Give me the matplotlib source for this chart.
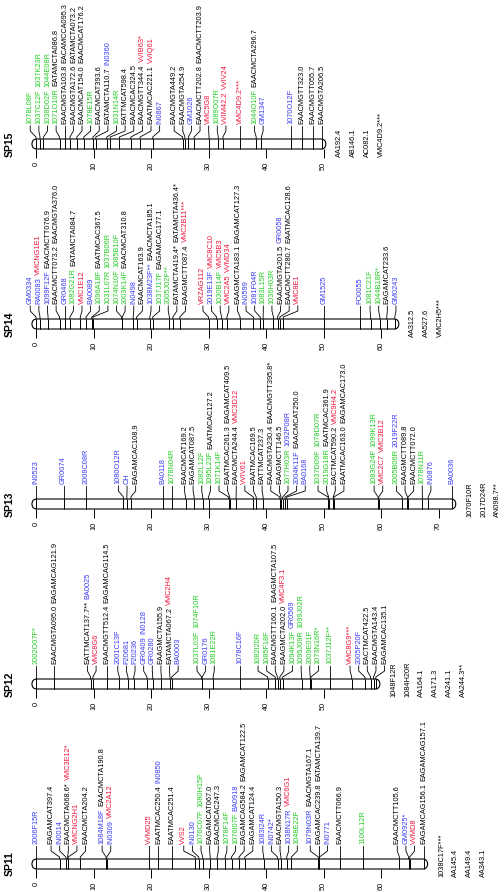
import numpy as np
import matplotlib.pyplot as plt
from matplotlib.patches import FancyBboxPatch

plt.rcParams['font.family'] = ['Liberation Sans', 'DejaVu Sans']

# marker positions (cM), label lines, word types (k=AFLP, g/b/r other marker classes)
sp15_pos = [0.0, 0.7, 1.3, 4.1, 5.0, 5.9, 7.1, 8.3, 9.9, 10.4, 12.3, 12.9, 14.5, 16.5, 18.1, 20.3,
            25.5, 25.9, 26.5, 27.5, 30.1, 31.7, 32.5, 35.5, 38.3, 39.2, 44.3, 46.3, 48.2, 49.7]
sp15_labels = ["1078L08F", "1037C12F 1037K23R", "1038D02F 1044E08R", "1071O10R EATAMCTA086.8",
               "EAACMGTA103.8 EACAMCCA095.3", "EAACMGTA172.6 EATAMCTA073.2", "EAACMCAT154.0 EAACMCAT176.2",
               "1078E15R", "EAACMCAT393.6", "EATAMCTA110.7 IN0360", "1031N14R", "EATTMCAT598.4",
               "EAACMCAC324.5", "EAACMGTT344.4 VVIB63*", "EAATMCAC221.1 VVIQ61", "IN0867",
               "EAACMGTA449.2", "EAACMGTA254.9", "GM1026", "EAACMCTT202.8 EAACMCTT203.9", "VMC5G8",
               "1089O07R", "VVIM42.2 VVIV24", "VMC4D9.2***", "1044O10F EAACMCTA296.7", "GM1347",
               "1070O12F", "EAACMGTT323.0", "EAACMGTT055.7", "EAACMGTA206.5"]
sp15_types = ["g", "gg", "gg", "gk", "kk", "kk", "kk", "g", "k", "kb", "g", "k", "k", "kr", "kr", "b",
              "k", "k", "b", "kk", "r", "g", "rr", "r", "gk", "b", "b", "k", "k", "k"]
sp15_unmapped = ["AA192.4", "AB146.1", "AC082.1", "VMC4D9.2***"]

sp14_pos = [0.0, 0.7, 2.1, 4.1, 5.0, 5.9, 7.7, 8.7, 9.7, 9.9, 14.9, 15.0, 16.9, 17.5, 19.8, 20.3,
            23.2, 23.8, 25.0, 30.0, 31.4, 32.3, 33.2, 35.5, 37.8, 39.0, 39.5, 41.3, 42.0, 42.4, 43.0,
            50.1, 56.3, 58.2, 59.8, 61.0, 62.4]
sp14_labels = ["GM0334", "RA0083 VMCNG1E1", "1099F12F EAACMCTT076.9", "EAACMCTT073.2 EAACMGTA376.0",
               "GR0468", "1082G21R EATAMCTA084.7", "VMC1E12", "BA0089", "1096A18F EAATMCAC367.5",
               "1031L07R 1037B06R", "1074N10F 1085B10F", "2003K14F EAACMCAT310.8", "IN0498",
               "EAACMCAT163.9", "1038M23F** EAACMCTA185.1", "1037J17F EAGAMCAC177.1", "2005J02F**",
               "EATAMCTA419.4* EATAMCTA436.4*", "EAAGMCTT087.4 VMC2B11***", "VRZAG112",
               "2019E13F VMC8C10", "1030B14F VMC5B3", "VMC2A5 VVMD34", "EAAGMCTA183.1 EAGAMCAT127.3",
               "IN0599", "1081F04R", "1083L15R", "1036H03R", "EAACMGTA201.5 GR0058",
               "EAACMCTT280.7 EAATMCAC128.6", "VMC8E1", "GM1525", "FO0055", "1081C21F", "1044B18R*",
               "EAGAMCAT233.6", "GM0243"]
sp14_types = ["b", "br", "bk", "kk", "b", "gk", "r", "b", "gk", "gg", "gg", "gk", "b", "k", "bk", "gk",
              "g", "kk", "kr", "r", "br", "gr", "rr", "kk", "b", "b", "g", "g", "kb", "kk", "r", "b",
              "b", "g", "g", "k", "b"]
sp14_unmapped = ["AA312.5", "AA527.6", "VMC2H5***"]

sp13_pos = [0.0, 4.8, 8.7, 15.2, 15.8, 16.5, 22.1, 23.6, 26.0, 27.5, 29.0, 30.0, 33.5, 33.7, 34.8,
            37.8, 38.3, 39.5, 42.4, 42.6, 42.9, 43.3, 43.6, 50.8, 50.9, 51.7, 51.8, 59.5, 59.6, 63.7,
            64.6, 64.7, 67.2, 68.2, 72.3]
sp13_labels = ["IN0523", "GR0074", "2008C08R", "1080O12R", "CH", "EAGAMCAC108.9", "BA0118", "1078N04R",
               "EAACMCAT169.2", "EAGAMCAT087.5", "1082L12F", "1095L23F EAATMCAC127.2", "1071K14F",
               "EAATMCAC261.3 EAGAMCAT409.5", "EAACMCTA244.4 VMC3D12", "VVIV61", "EAATMCAC169.5",
               "EATTMCAT237.3", "EAACMGTA230.4 EAACMGTT395.8*", "EAAGMCTT146.5", "1077H03R 1092P08R",
               "2004K11F EAACMCAT250.0", "BA0168", "1037D09F 1078D07R", "2019G18R EAATMCAC361.9",
               "EACTMCAT590.2 VMC9H4.2", "EAATMCAC163.0 EAGAMCAC173.0", "1083G24F 1099K13R",
               "VMC2C7 VMC3B12", "2005B06R 2019F22R", "EAAGMCTT089.8", "EAACMCTT072.0", "1078N11R",
               "IN0876", "BA0036"]
sp13_types = ["b", "b", "b", "b", "b", "k", "b", "g", "k", "k", "g", "gk", "g", "kk", "kr", "r", "k",
              "k", "kk", "k", "gb", "bk", "b", "gg", "gk", "kr", "kk", "gg", "rr", "gb", "k", "k", "g",
              "b", "b"]
sp13_unmapped = ["1070F10R", "2017D24R", "AN098.7**"]

sp12_pos = [0.0, 3.2, 9.5, 9.9, 12.3, 14.5, 16.0, 17.0, 19.3, 20.3, 21.8, 23.3, 23.6, 28.8, 28.9,
            30.8, 35.5, 40.3, 41.6, 42.0, 42.4, 42.9, 46.2, 47.7, 47.8, 51.1, 54.9, 57.2, 58.2, 58.7,
            59.1]
sp12_labels = ["2002O07F*", "EAACMGTA095.0 EAGAMCAG121.9", "EATTMCAT137.7** BA0025", "VMC8G6",
               "EAACMGTT512.4 EAGAMCAG114.5", "2001C13F", "F20681", "F20236", "GR0409 IN0128", "GR0280",
               "EAAGMCTA155.9", "EATAMCTA067.2 VMC2H4", "BA0003", "1037L03F 1074F10R", "GR0176",
               "1081E22R", "1078C16F", "1082I20R", "1085F18F", "EAACMGTT160.1 EAAGMCTA107.5",
               "EAAGMCTA202.0 VMC4F3.1", "1094K13F GR0569", "1095J09R 1099J02R", "2009E01F",
               "1073N16R*", "1037J12F**", "VMC8G9***", "2005P20F", "EACTMCAT422.5", "EAACMGTA143.4",
               "EAGAMCAC135.1"]
sp12_types = ["g", "kk", "kb", "r", "kk", "b", "b", "b", "bb", "b", "k", "kr", "b", "gg", "b", "g", "b",
              "g", "g", "kk", "kr", "gb", "gg", "g", "g", "g", "r", "b", "k", "k", "k"]
sp12_unmapped = ["1048F12R", "1084H20R", "AA164.1", "AA171.3", "AA241.1", "AA244.3**"]

sp11_pos = [0.0, 4.1, 5.2, 5.5, 5.6, 7.7, 12.2, 12.3, 19.7, 21.3, 23.6, 27.7, 28.3, 29.0, 30.3,
            31.5, 32.9, 34.0, 35.3, 36.3, 39.6, 42.0, 42.6, 43.6, 44.4, 49.1, 49.2, 49.3, 52.8, 56.9,
            63.2, 64.8, 65.0, 67.4]
sp11_labels = ["2006F15R", "EAGAMCAT397.4", "IN0014", "EAACMCTA068.6* VMC3E12*", "VMCNG2H1",
               "EAACMCTA204.2", "1084M18F EAACMCTA190.8", "IN0309 VMC2A12", "VVMD25",
               "EAATMCAC250.4 IN0850", "EAATMCAC251.4", "VVS2", "IN0130", "1076C07F 1080H15F",
               "EAGAMCAT067.0", "EAACMCAC247.3", "1078F14F", "1076I07F BA0918",
               "EAGAMCAG584.2 EAGAMCAT122.5", "EAGAMCAT124.4", "1083I24R", "IN0742*", "EAACMGTA150.3",
               "1038N17R VMC6G1", "1048E22F", "1079N03R EAACMGTA167.1", "EAGAMCAC239.8 EATAMCTA139.7",
               "IN0771", "EAACMCTT066.9", "1100L12R", "EAACMCTT105.6", "GM0925*", "VVMD8",
               "EAGAMCAG156.1 EAGAMCAG157.1"]
sp11_types = ["b", "k", "b", "kr", "r", "k", "bk", "br", "r", "kb", "k", "r", "b", "gg", "k", "k", "g",
              "gb", "kk", "k", "b", "b", "k", "br", "g", "bk", "kk", "b", "k", "g", "k", "b", "r", "kk"]
sp11_unmapped = ["1038C17F***", "AA145.4", "AA149.4", "AA343.1"]

names = ["SP15", "SP14", "SP13", "SP12", "SP11"]
all_pos = [sp15_pos, sp14_pos, sp13_pos, sp12_pos, sp11_pos]
all_labels = [sp15_labels, sp14_labels, sp13_labels, sp12_labels, sp11_labels]
all_types = [sp15_types, sp14_types, sp13_types, sp12_types, sp11_types]
all_unmapped = [sp15_unmapped, sp14_unmapped, sp13_unmapped, sp12_unmapped, sp11_unmapped]

colours = {'k': 'black', 'g': '#22cc22', 'b': '#3a3af2', 'r': '#f0143c'}

W, H = 504, 892
scale = 5.75          # px per cM
x0 = 36               # px position of 0 cM
centres = [144, 324, 504, 684, 864]   # bar centre, px from top
step = 1.5            # min label spacing in cM
fs = 5.3


def spread(pos, d, lo):
    # push labels apart (min spacing d), never left of lo
    def start(g):
        return max(np.mean([pos[j] for j in g]) - (len(g) - 1) * d / 2, lo)

    groups = []
    for i in range(len(pos)):
        groups.append([i])
        while len(groups) > 1:
            a, b = groups[-2], groups[-1]
            if start(a) + len(a) * d > start(b):
                groups[-2:] = [a + b]
            else:
                break
    out = []
    for g in groups:
        s = start(g)
        out += [s + k * d for k in range(len(g))]
    return out


fig = plt.figure(figsize=(W / 100, H / 100), dpi=100)

for name, pos, labels, types, extra, yc in zip(names, all_pos, all_labels, all_types, all_unmapped, centres):
    ax = fig.add_axes([0, (H - yc - 40) / H, 1, 180 / H])
    ax.set_xlim(-x0 / scale, (W - x0) / scale)
    ax.set_ylim(-40, 140)
    ax.patch.set_visible(False)
    for s in ['top', 'right', 'left']:
        ax.spines[s].set_visible(False)
    ax.spines['bottom'].set_position(('data', -5))
    ax.spines['bottom'].set_visible(False)
    ax.yaxis.set_visible(False)

    start = pos[0] - 0.7
    end = pos[-1] + 0.7
    ticks = np.arange(0, end, 10)
    ax.set_xticks(ticks)
    ax.set_xticklabels([str(int(t)) for t in ticks])
    ax.tick_params(axis='x', direction='out', length=6.5, width=0.7, labelsize=fs,
                   labelrotation=90, pad=2.5)

    bar = FancyBboxPatch((start, -5), end - start, 10,
                         boxstyle=f"round,pad=0,rounding_size={5 / scale}",
                         mutation_aspect=scale, fc='white', ec='black', lw=0.8, zorder=2)
    ax.add_patch(bar)
    ax.vlines(pos, -5, 5, color='black', lw=0.7, zorder=3)

    lab_x = spread(pos, step, pos[0] - 1.0)
    for p, lx, text, t in zip(pos, lab_x, labels, types):
        ax.plot([p, p, lx, lx], [5, 7, 13, 18], color='black', lw=0.6)
        words = text.split(' ')
        prev = ax.text(lx, 20, words[0], rotation=90, ha='center', va='bottom',
                       fontsize=fs, color=colours[t[0]])
        for w, c in zip(words[1:], t[1:]):
            prev = ax.annotate(w, xy=(0.5, 1), xycoords=prev, xytext=(0, 1.6),
                               textcoords='offset points', rotation=90, ha='center',
                               va='bottom', fontsize=fs, color=colours[c])

    for k, u in enumerate(extra):
        ax.text(end + (14 + 14 * k) / scale, -13, u, rotation=90, ha='center', va='bottom',
                fontsize=fs, color='black')

    ax.text((10 - x0) / scale, 0, name, rotation=90, ha='center', va='center',
            fontsize=7.5, fontweight='bold')

fig.savefig('out.png', dpi=100)
